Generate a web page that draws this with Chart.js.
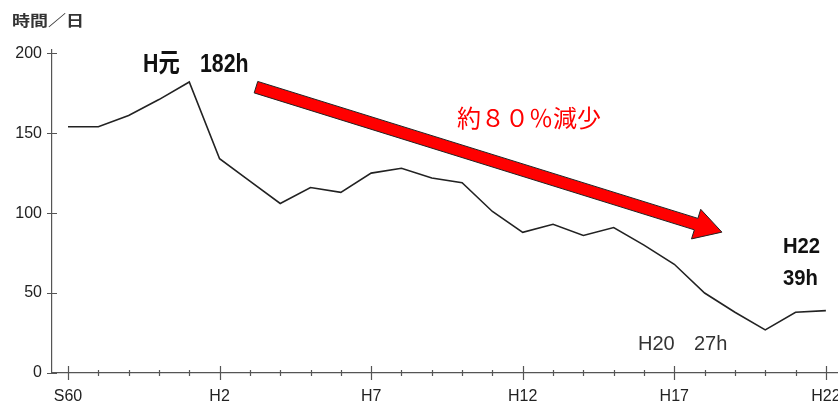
<!DOCTYPE html>
<html>
<head>
<meta charset="utf-8">
<script src="https://cdn.jsdelivr.net/npm/chart.js@4"></script>
<style>
  body { margin: 0; background: #fff; }
  #wrap { width: 838px; height: 403px; }
</style>
</head>
<body>
<div id="wrap"><canvas id="myChart"></canvas></div>
<script>
// years S60 .. H22
const years = ['S60','S61','S62','S63','H元','H2','H3','H4','H5','H6','H7','H8','H9','H10',
               'H11','H12','H13','H14','H15','H16','H17','H18','H19','H20','H21','H22'];
const hours = [154,154,161,171,182,134,120,106,116,113,125,128,122,119,
               101,88,93,86,91,80,68,50,38,27,38,39];
const tickLabels = ['S60','H2','H7','H12','H17','H22'];
const yTicks = [0,50,100,150,200];

const ctx = document.getElementById('myChart');
const axisColor = '#555';

function txt(c, s, x, y, font, color, sx) {
  c.save();
  c.translate(x, y);
  c.scale(sx || 1, 1);
  c.font = font;
  c.fillStyle = color;
  c.textAlign = 'left';
  c.textBaseline = 'alphabetic';
  c.fillText(s, 0, 0);
  c.restore();
}

const extras = {
  id: 'extras',
  afterDraw(chart) {
    const c = chart.ctx;
    const xs = chart.scales.x, ys = chart.scales.y;
    const bottom = ys.getPixelForValue(0);
    const left = xs.left;
    // tick marks crossing the axes
    c.save();
    c.strokeStyle = axisColor;
    c.lineWidth = 1.2;
    c.beginPath();
    for (let i = 0; i < years.length; i++) {
      const px = Math.round(xs.getPixelForValue(i)) + 0.5;
      const h = i % 5 === 0 ? 7 : 3;
      c.moveTo(px, bottom - h);
      c.lineTo(px, bottom + h);
    }
    yTicks.forEach(v => {
      const py = Math.round(ys.getPixelForValue(v)) + 0.5;
      c.moveTo(left - 5, py);
      c.lineTo(left + 5, py);
    });
    c.stroke();
    c.restore();

    // red arrow
    const x0 = xs.getPixelForValue(6.2), y0 = ys.getPixelForValue(178.75);
    const x1 = xs.getPixelForValue(21.57), y1 = ys.getPixelForValue(88.1);
    const len = Math.hypot(x1 - x0, y1 - y0);
    const ux = (x1 - x0) / len, uy = (y1 - y0) / len;
    const nx = -uy, ny = ux;
    const sw = 6, hl = 27, hw = 15.5;
    const bx = x1 - ux * hl, by = y1 - uy * hl;
    c.save();
    c.beginPath();
    c.moveTo(x0 + nx * sw, y0 + ny * sw);
    c.lineTo(bx + nx * sw, by + ny * sw);
    c.lineTo(bx + nx * hw, by + ny * hw);
    c.lineTo(x1, y1);
    c.lineTo(bx - nx * hw, by - ny * hw);
    c.lineTo(bx - nx * sw, by - ny * sw);
    c.lineTo(x0 - nx * sw, y0 - ny * sw);
    c.closePath();
    c.fillStyle = '#ff0000';
    c.fill();
    c.strokeStyle = '#222';
    c.lineWidth = 1;
    c.stroke();
    c.restore();

    // texts
    const cjk = '"Noto Sans CJK JP", sans-serif';
    txt(c, '時間／日', 12, 26, 'bold 15px ' + cjk, '#333', 1.2);
    txt(c, 'H元', 143, 72, 'bold 26px "Liberation Sans", ' + cjk, '#111', 0.82);
    txt(c, '182h', 200, 72, 'bold 26px "Liberation Sans", ' + cjk, '#111', 0.82);
    txt(c, '約８０％減少', 457, 127, '24px ' + cjk, '#ff0000', 1);
    txt(c, 'H22', 783, 253, 'bold 22px "Liberation Sans"', '#111', 0.92);
    txt(c, '39h', 783, 285, 'bold 22px "Liberation Sans"', '#111', 0.92);
    txt(c, 'H20', 638, 350, '20px "Liberation Sans"', '#333', 1);
    txt(c, '27h', 694, 350, '20px "Liberation Sans"', '#333', 1);
  }
};

new Chart(ctx, {
  type: 'line',
  data: {
    datasets: [{
      data: hours.map((h, i) => ({ x: i, y: h })),
      borderColor: '#222',
      borderWidth: 1.6,
      pointRadius: 0,
      tension: 0,
      fill: false
    }]
  },
  options: {
    responsive: true,
    maintainAspectRatio: false,
    animation: false,
    layout: { padding: { top: 50, left: 0, right: 0, bottom: 0 } },
    plugins: {
      legend: { display: false },
      tooltip: { enabled: false }
    },
    scales: {
      x: {
        type: 'linear',
        min: -0.528,
        max: 25.4,
        grid: { drawOnChartArea: false, drawTicks: false },
        border: { display: true, color: axisColor, width: 1.2 },
        ticks: {
          padding: 14,
          color: '#222',
          font: { family: '"Liberation Sans Narrow", "Liberation Sans"', size: 16 },
          callback: v => tickLabels[v / 5]
        },
        afterBuildTicks: s => { s.ticks = [0,5,10,15,20,25].map(v => ({ value: v })); },
        afterFit: s => { s.height = 30; s.paddingLeft = 0; s.paddingRight = 0; }
      },
      y: {
        min: 0,
        max: 202,
        grid: { drawOnChartArea: false, drawTicks: false },
        border: { display: true, color: axisColor, width: 1.2 },
        ticks: {
          padding: 10,
          color: '#222',
          font: { family: '"Liberation Sans"', size: 16 }
        },
        afterBuildTicks: s => { s.ticks = yTicks.map(v => ({ value: v })); },
        afterFit: s => { s.width = 52; }
      }
    }
  },
  plugins: [extras]
});
</script>
</body>
</html>
